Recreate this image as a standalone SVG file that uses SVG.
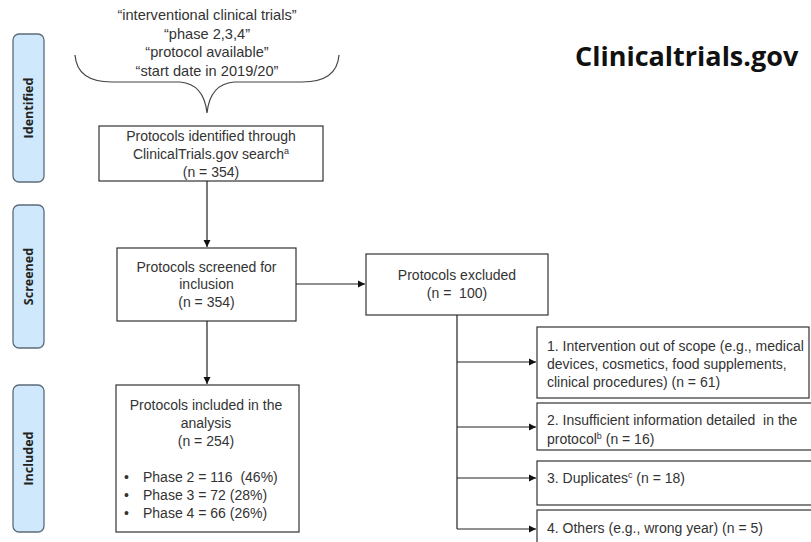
<svg xmlns="http://www.w3.org/2000/svg" width="811" height="542" viewBox="0 0 811 542">
<style>
.stage{fill:#cfe8fb;stroke:#5d6b78;stroke-width:1.3}
.stxt{font-family:"Open Sans","Liberation Sans",sans-serif;font-weight:bold;font-size:12.5px;fill:#222;text-anchor:middle}
.box{fill:#fff;stroke:#333;stroke-width:1.2}
.t{font-family:"Liberation Sans",Arial,sans-serif;font-size:14px;fill:#333}
.q{font-size:14.6px}
.c{text-anchor:middle}
.line{fill:none;stroke:#222;stroke-width:1.2}
.sup{font-size:9px}
</style>
<defs>
<marker id="ah" markerWidth="8" markerHeight="8" refX="7" refY="4" orient="auto" markerUnits="userSpaceOnUse">
<path d="M0,0.5 L7,4 L0,7.5 Z" fill="#111"/>
</marker>
</defs>
<rect width="811" height="542" fill="#fff"/>

<g id="stage-identified">
<rect class="stage" x="13" y="34" width="31" height="148" rx="6"/>
<text class="stxt" transform="translate(33,108) rotate(-90)">Identified</text>
</g>
<g id="stage-screened">
<rect class="stage" x="13" y="205" width="31" height="143" rx="6"/>
<text class="stxt" transform="translate(33,276.5) rotate(-90)">Screened</text>
</g>
<g id="stage-included">
<rect class="stage" x="13" y="385" width="31" height="147" rx="6"/>
<text class="stxt" transform="translate(33,458.5) rotate(-90)">Included</text>
</g>

<g id="title">
<text x="575" y="66" style="font-family:'Open Sans','Liberation Sans',sans-serif;font-weight:bold;font-size:27px;fill:#111">Clinicaltrials.gov</text>
</g>

<g id="search-terms">
<text class="t q c" x="207" y="20">“interventional clinical trials”</text>
<text class="t q c" x="207" y="38.5">“phase 2,3,4”</text>
<text class="t q c" x="207" y="57">“protocol available”</text>
<text class="t q c" x="207" y="75.5">“start date in 2019/20”</text>
<path d="M75,55 Q77,82 112,82 L180,82 Q204,84 207,113 Q210,84 234,82 L302,82 Q337,82 339,55" fill="none" stroke="#444" stroke-width="1.2"/>
</g>

<g id="identified">
<rect class="box" x="99" y="126" width="224" height="55"/>
<text class="t c" x="211" y="141">Protocols identified through</text>
<text class="t c" x="211" y="159">ClinicalTrials.gov search<tspan class="sup" dy="-5">a</tspan></text>
<text class="t c" x="211" y="177">(n = 354)</text>
</g>

<g id="screened">
<rect class="box" x="117" y="248" width="179" height="73"/>
<text class="t c" x="206.5" y="272">Protocols screened for</text>
<text class="t c" x="206.5" y="288.5">inclusion</text>
<text class="t c" x="206.5" y="307">(n = 354)</text>
</g>

<g id="excluded">
<rect class="box" x="366" y="254" width="182" height="61"/>
<text class="t c" x="457" y="280">Protocols excluded</text>
<text class="t c" x="457" y="298">(n =&#160; 100)</text>
</g>

<g id="included">
<rect class="box" x="116" y="385" width="183" height="147"/>
<text class="t c" x="206" y="410">Protocols included in the</text>
<text class="t c" x="206" y="428">analysis</text>
<text class="t c" x="206" y="446">(n = 254)</text>
<text class="t" x="124" y="482">•</text>
<text class="t" x="143" y="482">Phase 2 = 116&#160; (46%)</text>
<text class="t" x="124" y="500">•</text>
<text class="t" x="143" y="500">Phase 3 = 72 (28%)</text>
<text class="t" x="124" y="518">•</text>
<text class="t" x="143" y="518">Phase 4 = 66 (26%)</text>
</g>

<g id="reason-1">
<rect class="box" x="537" y="327" width="272" height="71"/>
<text class="t" x="547" y="351">1. Intervention out of scope (e.g., medical</text>
<text class="t" x="547" y="368.5">devices, cosmetics, food supplements,</text>
<text class="t" x="547" y="387">clinical procedures) (n = 61)</text>
</g>
<g id="reason-2">
<rect class="box" x="537" y="403" width="280" height="47"/>
<text class="t" x="547" y="425">2. Insufficient information detailed&#160; in the</text>
<text class="t" x="547" y="444">protocol<tspan class="sup" dy="-5">b</tspan><tspan dy="5"> (n = 16)</tspan></text>
</g>
<g id="reason-3">
<rect class="box" x="537" y="461" width="280" height="44"/>
<text class="t" x="547" y="483">3. Duplicates<tspan class="sup" dy="-5">c</tspan><tspan dy="5"> (n = 18)</tspan></text>
</g>
<g id="reason-4">
<rect class="box" x="537" y="510" width="280" height="44"/>
<text class="t" x="547" y="533">4. Others (e.g., wrong year) (n = 5)</text>
</g>

<g id="connectors">
<line class="line" x1="207" y1="181" x2="207" y2="247" marker-end="url(#ah)"/>
<line class="line" x1="207" y1="321" x2="207" y2="384" marker-end="url(#ah)"/>
<line class="line" x1="296" y1="284" x2="365" y2="284" marker-end="url(#ah)"/>
<path class="line" d="M457,315 L457,529"/>
<line class="line" x1="457" y1="362" x2="536" y2="362" marker-end="url(#ah)"/>
<line class="line" x1="457" y1="427" x2="536" y2="427" marker-end="url(#ah)"/>
<line class="line" x1="457" y1="478" x2="536" y2="478" marker-end="url(#ah)"/>
<line class="line" x1="457" y1="529" x2="536" y2="529" marker-end="url(#ah)"/>
</g>
</svg>
